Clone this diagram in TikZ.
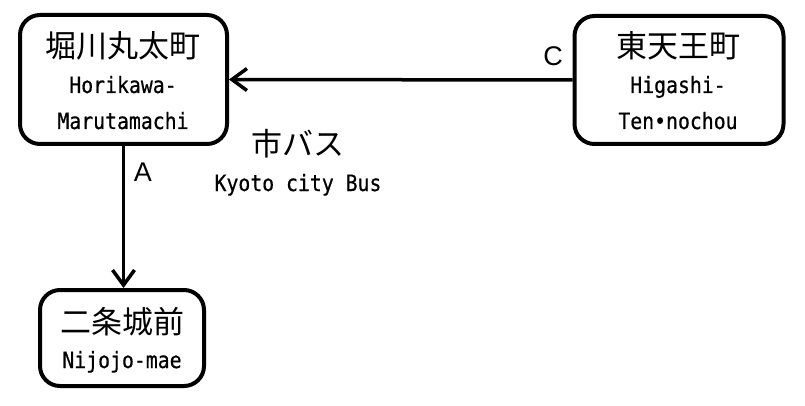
\documentclass[tikz,border=0pt]{standalone}
\usepackage{fontspec}
\setmainfont{Liberation Sans}
\newfontfamily\jpfont{Noto Sans CJK JP}
\newfontfamily\monofont[FakeStretch=0.88,FakeBold=0.6]{DejaVu Sans Mono}
\usetikzlibrary{arrows.meta}
\begin{document}
\begin{tikzpicture}[x=1pt,y=-1pt,
  stationbox/.style={draw=black,line width=4pt,rounded corners=20pt,fill=white,inner sep=0pt},
  jp/.style={font=\jpfont\fontsize{31}{31}\selectfont,inner sep=0pt},
  rom/.style={font=\monofont\fontsize{22.5}{22.5}\selectfont,inner sep=0pt},
  lbl/.style={font=\fontsize{27}{27}\selectfont,inner sep=0pt},
  conn/.style={line width=3.5pt,-{Straight Barb[length=15pt,width=22pt]}}]
\useasboundingbox (0,0) rectangle (805,406);
\node[stationbox,minimum width=207pt,minimum height=129pt] (hm) at (123.5,79.5) {};
\node[stationbox,minimum width=209pt,minimum height=128pt] (ht) at (679,80) {};
\node[stationbox,minimum width=164pt,minimum height=96pt] (nm) at (122,338) {};
\node[jp] (hmjp) at (123,46) {堀川丸太町};
\node[rom,anchor=base] (hmr1) at (123,93) {Horikawa-};
\node[rom,anchor=base] (hmr2) at (123,129) {Marutamachi};
\node[jp] (htjp) at (678,46) {東天王町};
\node[rom,anchor=base] (htr1) at (678,93) {Higashi-};
\node[rom,anchor=base] (htr2) at (678,129) {Ten•nochou};
\node[jp] (nmjp) at (122,322) {二条城前};
\node[rom,anchor=base] (nmr) at (122,368) {Nijojo-mae};
\node[jp] (bus) at (298,144) {市バス};
\node[rom,anchor=base] (busr) at (298,191) {Kyoto city Bus};
\draw[conn] (ht.west) -- (hm.east);
\draw[conn] (hm.south) -- (hm.south |- nm.north);
\node[lbl] (la) at (143,172) {A};
\node[lbl] (lc) at (553,56) {C};
\end{tikzpicture}
\end{document}
